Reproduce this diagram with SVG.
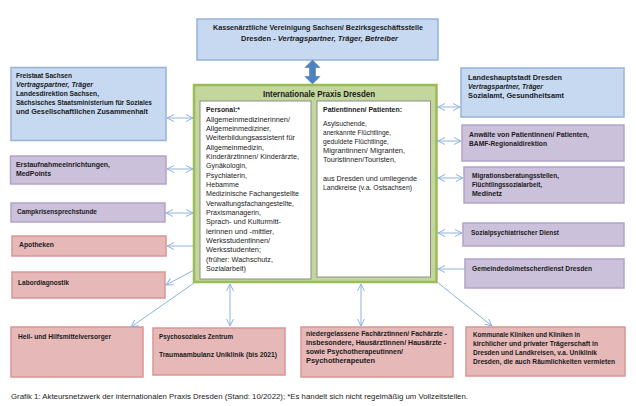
<svg xmlns="http://www.w3.org/2000/svg" width="636" height="406" viewBox="0 0 636 406">
<defs>
<style>
text{font-family:"Liberation Sans",Arial,sans-serif;font-size:7.3px;fill:#1a1a1a}
.b{font-weight:bold}
.i{font-style:italic}
.r{font-size:7.4px}
.kv{font-size:7.5px}
.t{font-size:8.2px}
.blue{fill:#c6d9f1;stroke:#95b3d7;stroke-width:1.5}
.pur{fill:#ccc1da;stroke:#b3a2c7;stroke-width:1.5}
.pink{fill:#e6b9b8;stroke:#d99694;stroke-width:1.5}
.inner{fill:#ffffff;stroke:#8c8c8c;stroke-width:1}
.c line{stroke:#8db3e2;stroke-width:1;fill:none}
.two{marker-start:url(#ah);marker-end:url(#ah)}
.one{marker-end:url(#ah)}
</style>
<marker id="ah" viewBox="0 0 8 8" refX="7.5" refY="4" markerWidth="8" markerHeight="8" markerUnits="userSpaceOnUse" orient="auto-start-reverse">
<path d="M0.5,0.5 L7.5,4 L0.5,7.5" fill="none" stroke="#8db3e2" stroke-width="1"/>
</marker>
</defs>
<rect width="636" height="406" fill="#ffffff"/>

<g id="kv">
<rect class="blue" x="197" y="19" width="241" height="41"/>
<text class="b kv" x="213" y="30" textLength="210" lengthAdjust="spacingAndGlyphs">Kassenärztliche Vereinigung Sachsen/ Bezirksgeschäftsstelle</text>
<text class="b kv" x="241" y="40.5" textLength="157" lengthAdjust="spacingAndGlyphs">Dresden - <tspan class="i">Vertragspartner, Träger, Betreiber</tspan></text>
</g>

<g id="blockarrow">
<polygon points="312.5,60 305,67.5 309.5,67.5 309.5,76.5 305,76.5 312.5,84 320,76.5 315.5,76.5 315.5,67.5 320,67.5" fill="#4f81bd" stroke="#3f6ea8" stroke-width="0.5"/>
</g>

<g id="ipd">
<rect x="194" y="85" width="242.5" height="197" fill="#c3d69b" stroke="#9bbb59" stroke-width="2.5"/>
<text class="b t" x="263" y="96.8" textLength="112" lengthAdjust="spacingAndGlyphs">Internationale Praxis Dresden</text>
<rect class="inner" x="200" y="101" width="111" height="178"/>
<text class="b" x="206" y="111.5" textLength="34" lengthAdjust="spacingAndGlyphs">Personal:*</text>
<text class="r" x="206" y="121.5" textLength="84" lengthAdjust="spacingAndGlyphs">Allgemeinmedizinerinnen/</text>
<text class="r" x="206" y="130.85" textLength="65" lengthAdjust="spacingAndGlyphs">Allgemeinmediziner,</text>
<text class="r" x="206" y="140.2" textLength="89" lengthAdjust="spacingAndGlyphs">Weiterbildungsassistent für</text>
<text class="r" x="206" y="149.55" textLength="58" lengthAdjust="spacingAndGlyphs">Allgemeinmedizin,</text>
<text class="r" x="206" y="158.9" textLength="93" lengthAdjust="spacingAndGlyphs">Kinderärztinnen/ Kinderärzte,</text>
<text class="r" x="206" y="168.25" textLength="41" lengthAdjust="spacingAndGlyphs">Gynäkologin,</text>
<text class="r" x="206" y="177.6" textLength="41" lengthAdjust="spacingAndGlyphs">Psychiaterin,</text>
<text class="r" x="206" y="186.95" textLength="33" lengthAdjust="spacingAndGlyphs">Hebamme</text>
<text class="r" x="206" y="196.3" textLength="93" lengthAdjust="spacingAndGlyphs">Medizinische Fachangestellte</text>
<text class="r" x="206" y="205.65" textLength="88" lengthAdjust="spacingAndGlyphs">Verwaltungsfachangestellte,</text>
<text class="r" x="206" y="215" textLength="55" lengthAdjust="spacingAndGlyphs">Praxismanagerin,</text>
<text class="r" x="206" y="224.35" textLength="75" lengthAdjust="spacingAndGlyphs">Sprach- und Kulturmitt-</text>
<text class="r" x="206" y="233.7" textLength="68" lengthAdjust="spacingAndGlyphs">lerinnen und -mittler,</text>
<text class="r" x="206" y="243.05" textLength="64" lengthAdjust="spacingAndGlyphs">Werksstudentinnen/</text>
<text class="r" x="206" y="252.4" textLength="55" lengthAdjust="spacingAndGlyphs">Werksstudenten;</text>
<text class="r" x="206" y="261.75" textLength="67" lengthAdjust="spacingAndGlyphs">(früher: Wachschutz,</text>
<text class="r" x="206" y="271.1" textLength="40" lengthAdjust="spacingAndGlyphs">Sozialarbeit)</text>
<rect class="inner" x="317" y="101" width="113.5" height="176"/>
<text class="b" x="323" y="111.5" textLength="79" lengthAdjust="spacingAndGlyphs">Patientinnen/ Patienten:</text>
<text class="r" x="323" y="125.5" textLength="44" lengthAdjust="spacingAndGlyphs">Asylsuchende,</text>
<text class="r" x="323" y="134.7" textLength="68" lengthAdjust="spacingAndGlyphs">anerkannte Flüchtlinge,</text>
<text class="r" x="323" y="143.9" textLength="66" lengthAdjust="spacingAndGlyphs">geduldete Flüchtlinge,</text>
<text class="r" x="323" y="153.1" textLength="82" lengthAdjust="spacingAndGlyphs">Migrantinnen/ Migranten,</text>
<text class="r" x="323" y="162.3" textLength="73" lengthAdjust="spacingAndGlyphs">Touristinnen/Touristen,</text>
<text class="r" x="323" y="180.7" textLength="94" lengthAdjust="spacingAndGlyphs">aus Dresden und umliegende</text>
<text class="r" x="323" y="189.9" textLength="89" lengthAdjust="spacingAndGlyphs">Landkreise (v.a. Ostsachsen)</text>
</g>

<g id="freistaat">
<rect class="blue" x="11" y="67.5" width="155" height="73"/>
<text class="b" x="16" y="77.5" textLength="56" lengthAdjust="spacingAndGlyphs">Freistaat Sachsen</text>
<text class="b i" x="16" y="86.7" textLength="77" lengthAdjust="spacingAndGlyphs">Vertragspartner, Träger</text>
<text class="b" x="16" y="95.9" textLength="83" lengthAdjust="spacingAndGlyphs">Landesdirektion Sachsen,</text>
<text class="b" x="16" y="105.1" textLength="136" lengthAdjust="spacingAndGlyphs">Sächsisches Staatsministerium für Soziales</text>
<text class="b" x="16" y="114.3" textLength="132" lengthAdjust="spacingAndGlyphs">und Gesellschaftlichen Zusammenhalt</text>
</g>

<g id="erstaufnahme">
<rect class="pur" x="10.5" y="156" width="155.5" height="28"/>
<text class="b" x="16" y="166.5" textLength="94" lengthAdjust="spacingAndGlyphs">Erstaufnahmeeinrichtungen,</text>
<text class="b" x="16" y="175.7" textLength="35" lengthAdjust="spacingAndGlyphs">MedPoints</text>
</g>

<g id="camp">
<rect class="pur" x="11" y="203" width="154" height="19"/>
<text class="b" x="17" y="213.5" textLength="80" lengthAdjust="spacingAndGlyphs">Campkrisensprechstunde</text>
</g>

<g id="apotheken">
<rect class="pink" x="12" y="236" width="154" height="20"/>
<text class="b" x="19" y="246.5" textLength="35" lengthAdjust="spacingAndGlyphs">Apotheken</text>
</g>

<g id="labor">
<rect class="pink" x="12" y="272" width="153" height="26"/>
<text class="b" x="18" y="284.5" textLength="51" lengthAdjust="spacingAndGlyphs">Labordiagnostik</text>
</g>

<g id="heil">
<rect class="pink" x="11" y="327" width="132" height="50"/>
<text class="b" x="18" y="338.5" textLength="93" lengthAdjust="spacingAndGlyphs">Heil- und Hilfsmittelversorger</text>
</g>

<g id="psz">
<rect class="pink" x="153" y="328" width="132" height="47"/>
<text class="b" x="159" y="338.5" textLength="74" lengthAdjust="spacingAndGlyphs">Psychosoziales Zentrum</text>
<text class="b" x="159" y="356.5" textLength="118" lengthAdjust="spacingAndGlyphs">Traumaambulanz Uniklinik (bis 2021)</text>
</g>

<g id="niedergelassene">
<rect class="pink" x="301" y="327" width="152" height="50"/>
<text class="b" x="306" y="336" textLength="141" lengthAdjust="spacingAndGlyphs">niedergelassene Fachärztinnen/ Fachärzte -</text>
<text class="b" x="306" y="345" textLength="140" lengthAdjust="spacingAndGlyphs">insbesondere, Hausärztinnen/ Hausärzte -</text>
<text class="b" x="306" y="354" textLength="97" lengthAdjust="spacingAndGlyphs">sowie Psychotherapeutinnen/</text>
<text class="b" x="306" y="363" textLength="69" lengthAdjust="spacingAndGlyphs">Psychotherapeuten</text>
</g>

<g id="kliniken">
<rect class="pink" x="466" y="327" width="159" height="49"/>
<text class="b" x="473" y="336.5" textLength="107" lengthAdjust="spacingAndGlyphs">Kommunale Kliniken und Kliniken in</text>
<text class="b" x="473" y="345.5" textLength="125" lengthAdjust="spacingAndGlyphs">kirchlicher und privater Trägerschaft in</text>
<text class="b" x="473" y="354.5" textLength="124" lengthAdjust="spacingAndGlyphs">Dresden und Landkreisen, v.a. Uniklinik</text>
<text class="b" x="473" y="363.5" textLength="142" lengthAdjust="spacingAndGlyphs">Dresden, die auch Räumlichkeiten vermieten</text>
</g>

<g id="landeshauptstadt">
<rect class="blue" x="461" y="68" width="163" height="49"/>
<text class="b" x="468" y="79.5" textLength="94" lengthAdjust="spacingAndGlyphs">Landeshauptstadt Dresden</text>
<text class="b i" x="468" y="88.5" textLength="75" lengthAdjust="spacingAndGlyphs">Vertragspartner, Träger</text>
<text class="b" x="468" y="97.5" textLength="96" lengthAdjust="spacingAndGlyphs">Sozialamt, Gesundheitsamt</text>
</g>

<g id="anwaelte">
<rect class="pur" x="462" y="125" width="162" height="36"/>
<text class="b" x="469" y="136.5" textLength="120" lengthAdjust="spacingAndGlyphs">Anwälte von Patientinnen/ Patienten,</text>
<text class="b" x="469" y="145.5" textLength="78" lengthAdjust="spacingAndGlyphs">BAMF-Regionaldirektion</text>
</g>

<g id="migration">
<rect class="pur" x="464" y="167" width="160" height="36"/>
<text class="b" x="472" y="177.5" textLength="87" lengthAdjust="spacingAndGlyphs">Migrationsberatungsstellen,</text>
<text class="b" x="472" y="186.7" textLength="70" lengthAdjust="spacingAndGlyphs">Flüchtlingssozialarbeit,</text>
<text class="b" x="472" y="195.9" textLength="30" lengthAdjust="spacingAndGlyphs">Medinetz</text>
</g>

<g id="sozialpsych">
<rect class="pur" x="463" y="223" width="161" height="23"/>
<text class="b" x="471" y="234.5" textLength="88" lengthAdjust="spacingAndGlyphs">Sozialpsychiatrischer Dienst</text>
</g>

<g id="dolmetscher">
<rect class="pur" x="465" y="259" width="159" height="29"/>
<text class="b" x="472" y="270.5" textLength="120" lengthAdjust="spacingAndGlyphs">Gemeindedolmetscherdienst Dresden</text>
</g>

<g id="connectors" class="c">
<line class="two" x1="167" y1="118" x2="193" y2="118"/>
<line class="two" x1="167" y1="169" x2="193" y2="169"/>
<line class="two" x1="166" y1="213" x2="193" y2="213"/>
<line class="one" x1="193" y1="246" x2="167" y2="246"/>
<line class="one" x1="194" y1="270" x2="166" y2="285"/>
<line class="one" x1="194" y1="283" x2="131" y2="327"/>
<line class="two" x1="230" y1="284" x2="230" y2="326"/>
<line class="two" x1="361" y1="284" x2="361" y2="326"/>
<line class="one" x1="437" y1="282" x2="492" y2="326"/>
<line class="two" x1="438" y1="107" x2="460" y2="107"/>
<line class="two" x1="438" y1="141" x2="461" y2="141"/>
<line class="two" x1="438" y1="178" x2="463" y2="178"/>
<line class="two" x1="438" y1="233" x2="462" y2="233"/>
<line class="one" x1="465" y1="269" x2="438" y2="269"/>
</g>

<g id="caption">
<text x="11" y="398.5" style="font-size:7.7px" textLength="457" lengthAdjust="spacingAndGlyphs">Grafik 1: Akteursnetzwerk der internationalen Praxis Dresden (Stand: 10/2022); *Es handelt sich nicht regelmäßig um Vollzeitstellen.</text>
</g>
</svg>
